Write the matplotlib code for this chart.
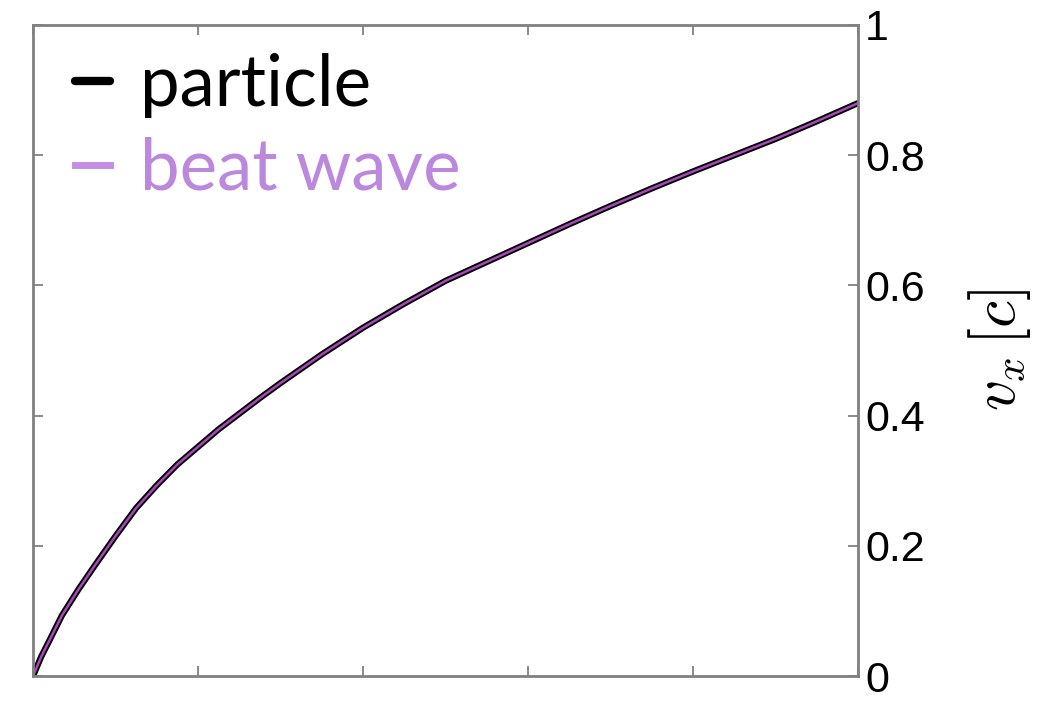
import matplotlib
matplotlib.use("Agg")
import matplotlib.pyplot as plt

# time axis (normalised, no labels) and longitudinal velocity in units of c
t = [0.0, 0.01, 0.02, 0.035, 0.055, 0.075, 0.1, 0.125, 0.15, 0.175, 0.2,
     0.225, 0.25, 0.275, 0.3, 0.35, 0.4, 0.45, 0.5, 0.55, 0.6, 0.65, 0.7,
     0.75, 0.8, 0.85, 0.9, 0.95, 1.0]
v_particle = [0.0, 0.030, 0.055, 0.093, 0.133, 0.170, 0.215, 0.258, 0.293,
              0.325, 0.352, 0.379, 0.403, 0.427, 0.450, 0.494, 0.535, 0.572,
              0.607, 0.636, 0.665, 0.694, 0.722, 0.749, 0.775, 0.800, 0.825,
              0.852, 0.880]
v_beat = v_particle

y_ticks = [0, 0.2, 0.4, 0.6, 0.8, 1]
y_ticklabels = ["0", "0.2", "0.4", "0.6", "0.8", "1"]
x_ticks = [0, 0.2, 0.4, 0.6, 0.8, 1.0]

plt.rcParams["mathtext.fontset"] = "cm"

fig = plt.figure(figsize=(10.39, 7.02), dpi=100)
ax = fig.add_axes([0.0318, 0.037, 0.7940, 0.9274])

ax.plot(t, v_particle, color="black", lw=4.5, solid_capstyle="round",
        label="particle")
ax.plot(t, v_beat, color="#a848b8", lw=1.8, label="beat wave")

ax.set_xlim(0, 1)
ax.set_ylim(0, 1)
ax.set_xticks(x_ticks)
ax.set_xticklabels([])
ax.set_yticks(y_ticks)
ax.set_yticklabels(y_ticklabels, family="Liberation Sans", fontsize=31)

ax.yaxis.tick_right()
ax.yaxis.set_label_position("right")
ax.tick_params(axis="both", direction="in", length=7, width=1.2,
               color="#777777", top=True, bottom=True, left=True, right=True,
               pad=5)
ax.tick_params(axis="y", labelleft=False, labelright=True)

for sp in ax.spines.values():
    sp.set_color("#808080")
    sp.set_linewidth(2)

ax.set_ylabel(r"$v_x\,[c]$", fontsize=44, labelpad=30)

leg = ax.legend(loc="upper left", bbox_to_anchor=(0.008, 1.012), frameon=False,
                handlelength=0.5, handletextpad=0.42,
                labelspacing=0.27, borderaxespad=0.1,
                prop={"family": "Lato", "size": 51})
leg.get_texts()[0].set_color("black")
leg.get_texts()[1].set_color("#bb88dd")
leg.legend_handles[0].set_linewidth(6)
leg.legend_handles[1].set_linewidth(5)
leg.legend_handles[1].set_color("#c58ee6")

fig.savefig("out.png", dpi=100, facecolor="white")
